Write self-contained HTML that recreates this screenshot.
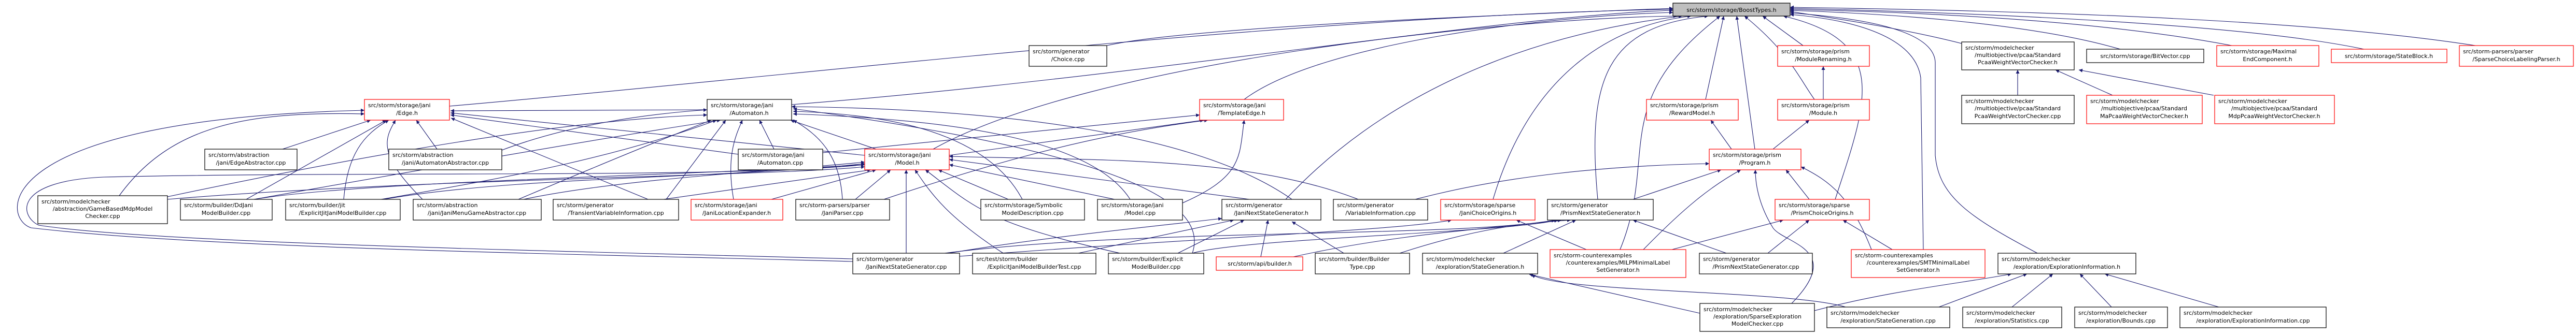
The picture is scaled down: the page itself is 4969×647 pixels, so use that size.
<!DOCTYPE html>
<html><head><meta charset="utf-8"><style>
html,body{margin:0;padding:0;background:#fff;}
svg{display:block;}
text{font-family:"DejaVu Sans","Liberation Sans",sans-serif;font-size:11px;fill:#000;}
.e{fill:none;stroke:#191970;stroke-width:1.1;marker-end:url(#a);}
.b{fill:#fff;stroke:#000;stroke-width:1.2;}
.r{fill:#fff;stroke:#ff0000;stroke-width:1.2;}
.m{text-anchor:middle;}
</style></head><body>
<svg width="4969" height="647" viewBox="0 0 4969 647" xmlns="http://www.w3.org/2000/svg">
<defs><marker id="a" viewBox="0 0 10 10" refX="10" refY="5" markerWidth="7" markerHeight="7" markerUnits="userSpaceOnUse" orient="auto"><path d="M0,0 L10,5 L0,10 z" fill="#191970"/></marker></defs>
<g>
<!-- into BoostTypes -->
<path class="e" d="M867,205 C1500,150 2500,30 3227,18"/>
<path class="e" d="M1527,202 C2200,150 2900,30 3227,20"/>
<path class="e" d="M2135,88 C2300,50 3000,25 3227,16"/>
<path class="e" d="M2400,192 C2550,80 3000,30 3227,24"/>
<path class="e" d="M1800,288 C2100,120 2900,35 3235,31"/>
<path class="e" d="M2480,385 C2700,150 3000,60 3245,31"/>
<path class="e" d="M2880,385 C2950,150 3100,50 3262,31"/>
<path class="e" d="M3082,385 C3060,150 3100,50 3295,31"/>
<path class="e" d="M3125,482 C3200,300 3100,200 3318,31"/>
<path class="e" d="M3290,192 L3325,31"/>
<path class="e" d="M3385,288 L3350,31"/>
<path class="e" d="M3500,192 C3470,150 3450,100 3365,31"/>
<path class="e" d="M3478,88 L3400,31"/>
<path class="e" d="M3540,385 C3600,200 3650,80 3440,31"/>
<path class="e" d="M3710,482 L3705,150 C3695,80 3600,40 3453,28"/>
<path class="e" d="M3930,489 C3800,420 3740,380 3733,300 L3733,120 C3730,60 3600,35 3453,25"/>
<path class="e" d="M3784,84 C3650,50 3500,30 3453,22"/>
<path class="e" d="M4090,95 C3900,40 3600,25 3453,20"/>
<path class="e" d="M4305,88 C4000,30 3600,22 3453,18"/>
<path class="e" d="M4560,95 C4300,40 3700,22 3453,16"/>
<path class="e" d="M4775,88 C4400,30 3800,20 3453,14"/>
<!-- into Edge.h -->
<path class="e" d="M545,288 L715,232"/>
<path class="e" d="M843,288 L803,232"/>
<path class="e" d="M230,378 C330,240 480,215 703,220"/>
<path class="e" d="M475,385 L745,232"/>
<path class="e" d="M663,385 C670,300 700,260 750,232"/>
<path class="e" d="M815,385 C730,300 740,270 763,232"/>
<path class="e" d="M1668,300 L869,218"/>
<path class="e" d="M1424,298 L869,222"/>
<path class="e" d="M1250,385 L870,228"/>
<path class="e" d="M1364,212 L869,214"/>
<path class="e" d="M1645,505 C1100,490 400,480 60,440 C0,420 -20,230 703,213"/>
<path class="e" d="M1645,500 C1100,485 300,470 75,435 C40,420 20,350 200,342 C700,330 1400,345 1668,318"/>
<!-- into Automaton.h -->
<path class="e" d="M1493,288 L1465,232"/>
<path class="e" d="M1690,288 L1525,232"/>
<path class="e" d="M1625,385 C1620,300 1580,260 1530,232"/>
<path class="e" d="M1415,385 C1400,300 1420,260 1432,232"/>
<path class="e" d="M1972,385 C1900,250 1700,220 1530,215"/>
<path class="e" d="M2180,385 C2100,260 1800,230 1530,220"/>
<path class="e" d="M2300,489 C2330,400 2200,300 1530,210"/>
<path class="e" d="M2492,385 C2300,250 1900,210 1527,206"/>
<path class="e" d="M968,290 C1100,240 1250,220 1364,212"/>
<path class="e" d="M1000,385 C1200,300 1300,260 1372,232"/>
<path class="e" d="M1285,385 L1400,232"/>
<path class="e" d="M735,385 C1000,340 1200,300 1382,232"/>
<path class="e" d="M490,385 C800,330 1200,260 1390,232"/>
<path class="e" d="M323,380 C700,300 1100,230 1364,222"/>
<!-- into Model.h -->
<path class="e" d="M1280,385 L1680,328"/>
<path class="e" d="M1488,385 L1690,328"/>
<path class="e" d="M1650,385 L1718,328"/>
<path class="e" d="M1748,489 L1748,328"/>
<path class="e" d="M1935,489 C1830,420 1800,380 1765,328"/>
<path class="e" d="M2160,489 C1900,430 1880,400 1785,328"/>
<path class="e" d="M1945,385 L1810,328"/>
<path class="e" d="M2150,385 L1831,318"/>
<path class="e" d="M2410,385 L1831,308"/>
<path class="e" d="M2620,385 C2400,300 2100,310 1831,302"/>
<path class="e" d="M323,385 C800,345 1500,340 1668,322"/>
<path class="e" d="M490,385 C700,350 1300,340 1668,318"/>
<path class="e" d="M740,385 C1000,340 1400,345 1668,316"/>
<path class="e" d="M1010,385 C1200,345 1500,330 1668,313"/>
<!-- into TemplateEdge.h -->
<path class="e" d="M1587,295 L2314,222"/>
<path class="e" d="M1705,385 C1900,320 2100,260 2330,232"/>
<path class="e" d="M2281,392 C2400,340 2390,300 2400,232"/>
<path class="e" d="M1831,300 L2322,232"/>
<!-- into JaniNSG.h -->
<path class="e" d="M1830,489 C2000,460 2200,440 2357,422"/>
<path class="e" d="M2080,489 L2380,425"/>
<path class="e" d="M2272,489 L2400,425"/>
<path class="e" d="M2432,496 L2446,425"/>
<path class="e" d="M2592,489 L2492,428"/>
<!-- into PrismNSG.h -->
<path class="e" d="M2300,489 C2400,460 2900,450 3005,425"/>
<path class="e" d="M2495,496 C2700,450 2900,440 3012,425"/>
<path class="e" d="M2700,489 C2850,440 2950,430 3030,425"/>
<path class="e" d="M2900,489 L3040,425"/>
<path class="e" d="M3330,489 L3150,425"/>
<path class="e" d="M1822,489 C2200,440 2800,460 3000,425"/>
<!-- into JaniChoiceOrigins.h -->
<path class="e" d="M1851,495 C2300,460 2700,445 2800,425"/>
<path class="e" d="M3060,482 L2925,425"/>
<!-- into Program.h -->
<path class="e" d="M3150,385 L3320,328"/>
<path class="e" d="M3170,482 C3250,400 3300,360 3358,328"/>
<path class="e" d="M3490,385 L3445,328"/>
<path class="e" d="M3610,482 C3570,380 3530,350 3474,322"/>
<path class="e" d="M2730,385 C2900,340 3100,320 3297,316"/>
<path class="e" d="M3456,586 C3560,480 3440,470 3420,440 C3395,400 3386,360 3386,328"/>
<path class="e" d="M3340,288 L3300,232"/>
<path class="e" d="M3420,288 L3490,232"/>
<path class="e" d="M3517,192 L3517,128"/>
<!-- into PrismChoiceOrigins -->
<path class="e" d="M3225,482 L3440,425"/>
<path class="e" d="M3410,489 L3490,425"/>
<path class="e" d="M3650,482 L3555,425"/>
<!-- into StateGeneration.h -->
<path class="e" d="M3279,605 L2950,530"/>
<path class="e" d="M3560,593 C3450,560 3000,565 2955,530"/>
<!-- into ExplInfo.h -->
<path class="e" d="M3500,600 C3650,560 3800,545 3880,529"/>
<path class="e" d="M3740,593 L3910,529"/>
<path class="e" d="M3881,593 L3960,529"/>
<path class="e" d="M4073,593 L4012,529"/>
<path class="e" d="M4280,593 L4060,529"/>
<!-- into StdPcaa.h -->
<path class="e" d="M3892,184 L3892,135"/>
<path class="e" d="M4075,184 L3965,135"/>
<path class="e" d="M4270,184 L4010,135"/>
</g>
<g>
<rect x="3227" y="6" width="226" height="25" fill="#bfbfbf" stroke="#000" stroke-width="1.2"/><text x="3340" y="23" class="m">src/storm/storage/BoostTypes.h</text>

<rect class="r" x="703" y="192" width="164" height="40"/><text x="710" y="207">src/storm/storage/jani</text><text x="785" y="222" class="m">/Edge.h</text>
<rect class="b" x="1364" y="192" width="163" height="40"/><text x="1371" y="207">src/storm/storage/jani</text><text x="1445" y="222" class="m">/Automaton.h</text>
<rect class="r" x="2314" y="192" width="162" height="40"/><text x="2321" y="207">src/storm/storage/jani</text><text x="2395" y="222" class="m">/TemplateEdge.h</text>
<rect class="r" x="3176" y="192" width="177" height="40"/><text x="3183" y="207">src/storm/storage/prism</text><text x="3264" y="222" class="m">/RewardModel.h</text>
<rect class="r" x="3429" y="192" width="177" height="40"/><text x="3436" y="207">src/storm/storage/prism</text><text x="3517" y="222" class="m">/Module.h</text>
<rect class="r" x="3429" y="88" width="177" height="40"/><text x="3436" y="103">src/storm/storage/prism</text><text x="3517" y="118" class="m">/ModuleRenaming.h</text>
<rect class="b" x="1985" y="88" width="150" height="40"/><text x="1992" y="103">src/storm/generator</text><text x="2060" y="118" class="m">/Choice.cpp</text>
<rect class="b" x="3784" y="81" width="217" height="54"/><text x="3791" y="96">src/storm/modelchecker</text><text x="3892" y="110" class="m">/multiobjective/pcaa/Standard</text><text x="3892" y="124" class="m">PcaaWeightVectorChecker.h</text>
<rect class="b" x="4025" y="95" width="226" height="26"/><text x="4138" y="112" class="m">src/storm/storage/BitVector.cpp</text>
<rect class="r" x="4276" y="88" width="197" height="40"/><text x="4283" y="103">src/storm/storage/Maximal</text><text x="4374" y="118" class="m">EndComponent.h</text>
<rect class="r" x="4497" y="95" width="223" height="26"/><text x="4608" y="112" class="m">src/storm/storage/StateBlock.h</text>
<rect class="r" x="4744" y="88" width="220" height="40"/><text x="4751" y="103">src/storm-parsers/parser</text><text x="4854" y="118" class="m">/SparseChoiceLabelingParser.h</text>

<rect class="b" x="395" y="288" width="178" height="40"/><text x="402" y="303">src/storm/abstraction</text><text x="484" y="318" class="m">/jani/EdgeAbstractor.cpp</text>
<rect class="b" x="750" y="288" width="218" height="40"/><text x="757" y="303">src/storm/abstraction</text><text x="859" y="318" class="m">/jani/AutomatonAbstractor.cpp</text>
<rect class="b" x="1424" y="288" width="163" height="40"/><text x="1431" y="303">src/storm/storage/jani</text><text x="1505" y="318" class="m">/Automaton.cpp</text>
<rect class="r" x="1668" y="288" width="163" height="40"/><text x="1675" y="303">src/storm/storage/jani</text><text x="1750" y="318" class="m">/Model.h</text>
<rect class="r" x="3297" y="288" width="177" height="40"/><text x="3304" y="303">src/storm/storage/prism</text><text x="3385" y="318" class="m">/Program.h</text>

<rect class="b" x="3784" y="184" width="217" height="55"/><text x="3791" y="199">src/storm/modelchecker</text><text x="3892" y="213" class="m">/multiobjective/pcaa/Standard</text><text x="3892" y="228" class="m">PcaaWeightVectorChecker.cpp</text>
<rect class="r" x="4025" y="184" width="223" height="55"/><text x="4032" y="199">src/storm/modelchecker</text><text x="4136" y="213" class="m">/multiobjective/pcaa/Standard</text><text x="4136" y="228" class="m">MaPcaaWeightVectorChecker.h</text>
<rect class="r" x="4272" y="184" width="231" height="55"/><text x="4279" y="199">src/storm/modelchecker</text><text x="4387" y="213" class="m">/multiobjective/pcaa/Standard</text><text x="4387" y="228" class="m">MdpPcaaWeightVectorChecker.h</text>

<rect class="b" x="73" y="378" width="250" height="54"/><text x="80" y="393">src/storm/modelchecker</text><text x="198" y="407" class="m">/abstraction/GameBasedMdpModel</text><text x="198" y="421" class="m">Checker.cpp</text>
<rect class="b" x="348" y="385" width="177" height="40"/><text x="355" y="400">src/storm/builder/DdJani</text><text x="436" y="415" class="m">ModelBuilder.cpp</text>
<rect class="b" x="551" y="385" width="221" height="40"/><text x="558" y="400">src/storm/builder/jit</text><text x="661" y="415" class="m">/ExplicitJitJaniModelBuilder.cpp</text>
<rect class="b" x="797" y="385" width="247" height="40"/><text x="804" y="400">src/storm/abstraction</text><text x="920" y="415" class="m">/jani/JaniMenuGameAbstractor.cpp</text>
<rect class="b" x="1067" y="385" width="242" height="40"/><text x="1074" y="400">src/storm/generator</text><text x="1188" y="415" class="m">/TransientVariableInformation.cpp</text>
<rect class="r" x="1333" y="385" width="177" height="40"/><text x="1340" y="400">src/storm/storage/jani</text><text x="1421" y="415" class="m">/JaniLocationExpander.h</text>
<rect class="b" x="1535" y="385" width="181" height="40"/><text x="1542" y="400">src/storm-parsers/parser</text><text x="1625" y="415" class="m">/JaniParser.cpp</text>
<rect class="b" x="1892" y="385" width="200" height="40"/><text x="1899" y="400">src/storm/storage/Symbolic</text><text x="1992" y="415" class="m">ModelDescription.cpp</text>
<rect class="b" x="2117" y="385" width="164" height="40"/><text x="2124" y="400">src/storm/storage/jani</text><text x="2199" y="415" class="m">/Model.cpp</text>
<rect class="b" x="2357" y="385" width="191" height="40"/><text x="2364" y="400">src/storm/generator</text><text x="2452" y="415" class="m">/JaniNextStateGenerator.h</text>
<rect class="b" x="2572" y="385" width="182" height="40"/><text x="2579" y="400">src/storm/generator</text><text x="2663" y="415" class="m">/VariableInformation.cpp</text>
<rect class="r" x="2779" y="385" width="182" height="40"/><text x="2786" y="400">src/storm/storage/sparse</text><text x="2870" y="415" class="m">/JaniChoiceOrigins.h</text>
<rect class="b" x="2985" y="385" width="204" height="40"/><text x="2992" y="400">src/storm/generator</text><text x="3087" y="415" class="m">/PrismNextStateGenerator.h</text>
<rect class="r" x="3424" y="385" width="182" height="40"/><text x="3431" y="400">src/storm/storage/sparse</text><text x="3515" y="415" class="m">/PrismChoiceOrigins.h</text>

<rect class="b" x="1645" y="489" width="206" height="40"/><text x="1652" y="504">src/storm/generator</text><text x="1748" y="519" class="m">/JaniNextStateGenerator.cpp</text>
<rect class="b" x="1876" y="489" width="238" height="40"/><text x="1883" y="504">src/test/storm/builder</text><text x="1995" y="519" class="m">/ExplicitJaniModelBuilderTest.cpp</text>
<rect class="b" x="2138" y="489" width="184" height="40"/><text x="2145" y="504">src/storm/builder/Explicit</text><text x="2230" y="519" class="m">ModelBuilder.cpp</text>
<rect class="r" x="2346" y="496" width="167" height="26"/><text x="2430" y="513" class="m">src/storm/api/builder.h</text>
<rect class="b" x="2537" y="489" width="182" height="40"/><text x="2544" y="504">src/storm/builder/Builder</text><text x="2628" y="519" class="m">Type.cpp</text>
<rect class="b" x="2744" y="489" width="222" height="40"/><text x="2751" y="504">src/storm/modelchecker</text><text x="2855" y="519" class="m">/exploration/StateGeneration.h</text>
<rect class="r" x="2990" y="482" width="262" height="54"/><text x="2997" y="497">src/storm-counterexamples</text><text x="3121" y="511" class="m">/counterexamples/MILPMinimalLabel</text><text x="3121" y="525" class="m">SetGenerator.h</text>
<rect class="b" x="3278" y="489" width="218" height="40"/><text x="3285" y="504">src/storm/generator</text><text x="3387" y="519" class="m">/PrismNextStateGenerator.cpp</text>
<rect class="r" x="3571" y="482" width="258" height="54"/><text x="3578" y="497">src/storm-counterexamples</text><text x="3700" y="511" class="m">/counterexamples/SMTMinimalLabel</text><text x="3700" y="525" class="m">SetGenerator.h</text>
<rect class="b" x="3854" y="489" width="266" height="40"/><text x="3861" y="504">src/storm/modelchecker</text><text x="3987" y="519" class="m">/exploration/ExplorationInformation.h</text>

<rect class="b" x="3279" y="586" width="221" height="54"/><text x="3286" y="601">src/storm/modelchecker</text><text x="3390" y="615" class="m">/exploration/SparseExploration</text><text x="3390" y="629" class="m">ModelChecker.cpp</text>
<rect class="b" x="3524" y="593" width="237" height="40"/><text x="3531" y="608">src/storm/modelchecker</text><text x="3642" y="623" class="m">/exploration/StateGeneration.cpp</text>
<rect class="b" x="3786" y="593" width="191" height="40"/><text x="3793" y="608">src/storm/modelchecker</text><text x="3881" y="623" class="m">/exploration/Statistics.cpp</text>
<rect class="b" x="4002" y="593" width="179" height="40"/><text x="4009" y="608">src/storm/modelchecker</text><text x="4091" y="623" class="m">/exploration/Bounds.cpp</text>
<rect class="b" x="4205" y="593" width="282" height="40"/><text x="4212" y="608">src/storm/modelchecker</text><text x="4346" y="623" class="m">/exploration/ExplorationInformation.cpp</text>
</g>
</svg>
</body></html>
